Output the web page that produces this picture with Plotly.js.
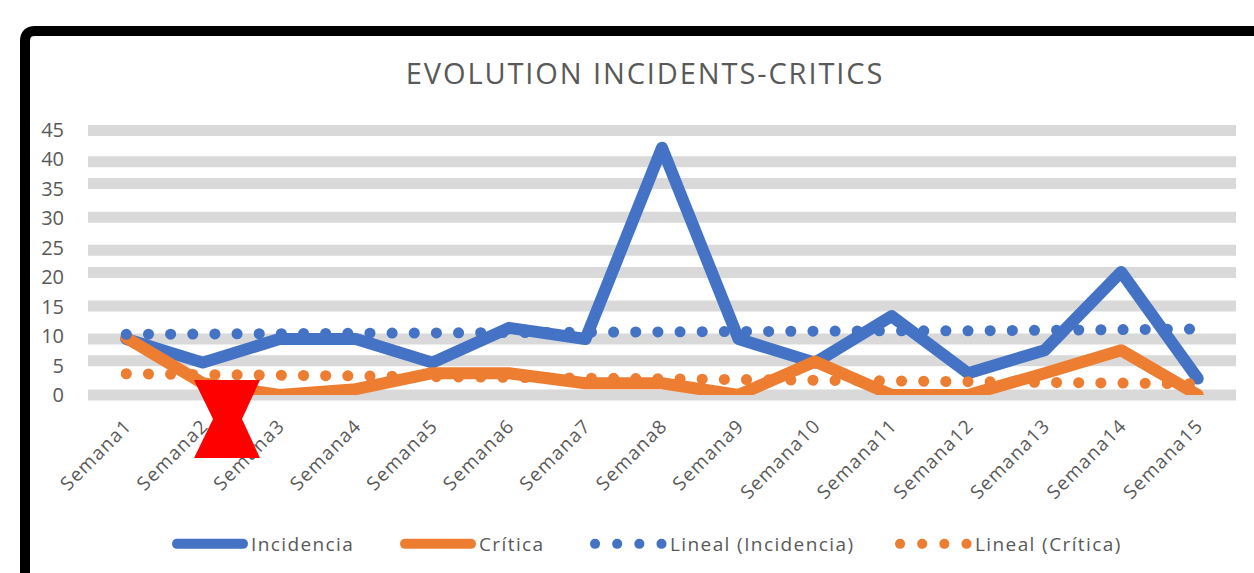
<!DOCTYPE html>
<html><head><meta charset="utf-8">
<script src="https://cdn.plot.ly/plotly-3.0.1.min.js"></script>
<style>
html,body{margin:0;padding:0;background:#fff}
#c{width:1254px;height:573px}
.scatterlayer .js-line,.legendlines path{stroke-linecap:round!important}
.scatterlayer .js-line{stroke-linejoin:round!important}
.gtitle{letter-spacing:1.9px}
.legendtext,.legend2text,.legend3text,.legend4text{letter-spacing:1.4px;transform:translateX(3px)}
.xtick text{letter-spacing:1.3px}
</style></head><body><div id="c"></div>
<script>
const weeks=["Semana1","Semana2","Semana3","Semana4","Semana5","Semana6","Semana7","Semana8","Semana9","Semana10","Semana11","Semana12","Semana13","Semana14","Semana15"];
const incidencia=[9.5,5.5,9.5,9.5,5.5,11.4,9.5,42,9.5,5.5,13.4,3.7,7.6,20.9,2.8];
const critica=[9.7,2,0,1,3.7,3.7,2,2,0,5.7,0,0,3.7,7.6,0];
const linealIncidencia=[10.3,10.4,10.4,10.5,10.5,10.6,10.7,10.7,10.8,10.8,10.9,10.9,11,11.1,11.2];
const linealCritica=[3.6,3.5,3.4,3.3,3.1,3,2.9,2.8,2.7,2.6,2.5,2.3,2.2,2,1.9];
const yTicks=[0,5,10,15,20,25,30,35,40,45];
const bandLevels=[0,5.8,9.5,15.1,20.8,24.6,30.2,35.9,39.6,44.9];

const W=1254,H=573,L=88,R=1236,T=120,B=395,YMAX=46.7;
const px=x=>(x-L)/(R-L), py=y=>(B-y)/(B-T);
const pathOf=pts=>pts.map((p,i)=>(i?'L':'M')+px(p[0])+' '+py(p[1])).join(' ');

const bands=bandLevels.map(v=>({type:'line',layer:'below',xref:'paper',yref:'paper',
  x0:0,x1:1,y0:v/YMAX,y1:v/YMAX,line:{color:'#d9d9d9',width:11}}));
const frame={type:'path',layer:'above',xref:'paper',yref:'paper',
  path:`M${px(25)} ${py(600)} L${px(25)} ${py(41)} Q${px(25)} ${py(31)} ${px(35)} ${py(31)} L${px(1270)} ${py(31)}`,
  line:{color:'#000',width:10}};
const hourglass={type:'path',layer:'above',xref:'paper',yref:'paper',
  path:pathOf([[194,380],[260,380],[242,419],[260,458],[194,458],[213,419]])+' Z',
  fillcolor:'#ff0000',line:{width:0}};

const data=[
 {x:weeks,y:incidencia,name:'Incidencia',legend:'legend',mode:'lines',line:{color:'#4472c4',width:12}},
 {x:weeks,y:critica,name:'Crítica',legend:'legend2',mode:'lines',line:{color:'#ed7d31',width:12}},
 {x:weeks,y:linealIncidencia,name:'Lineal (Incidencia)',legend:'legend3',mode:'lines',line:{color:'#4472c4',width:11,dash:'0.1px,22.05px'}},
 {x:weeks,y:linealCritica,name:'Lineal (Crítica)',legend:'legend4',mode:'lines',line:{color:'#ed7d31',width:11,dash:'0.1px,22.05px'}}
];
const font='"Open Sans","Noto Sans",sans-serif';
const leg=(xp,w)=>({orientation:'h',x:px(xp),xanchor:'left',y:py(544),yanchor:'middle',itemwidth:w,
   font:{size:19,color:'#595959',family:font},bgcolor:'rgba(0,0,0,0)'});
const layout={
 width:W,height:H,paper_bgcolor:'#fff',plot_bgcolor:'rgba(0,0,0,0)',
 margin:{l:L,r:W-R,t:T,b:H-B,pad:0,autoexpand:false},
 font:{family:font,color:'#595959'},
 title:{text:'EVOLUTION INCIDENTS-CRITICS',font:{family:font,size:29,color:'#595959'},x:645/W,xanchor:'center',y:1-74/H,yanchor:'middle'},
 xaxis:{type:'category',range:[-0.5,14.5],tickangle:-45,showgrid:false,zeroline:false,showline:false,
   ticks:'outside',ticklen:11,tickcolor:'rgba(0,0,0,0)',tickfont:{size:19,color:'#595959',family:font}},
 yaxis:{range:[0,YMAX],tickvals:yTicks,ticktext:yTicks.map(String),showgrid:false,zeroline:false,showline:false,
   ticks:'outside',ticklen:19,tickcolor:'rgba(0,0,0,0)',tickfont:{size:20,color:'#595959',family:font}},
 legend:leg(172,66),legend2:leg(400,66),legend3:leg(590,67),legend4:leg(895,67),
 shapes:[...bands,frame,hourglass],
 showlegend:true
};
Plotly.newPlot('c',data,layout,{displayModeBar:false,staticPlot:true});
</script></body></html>
